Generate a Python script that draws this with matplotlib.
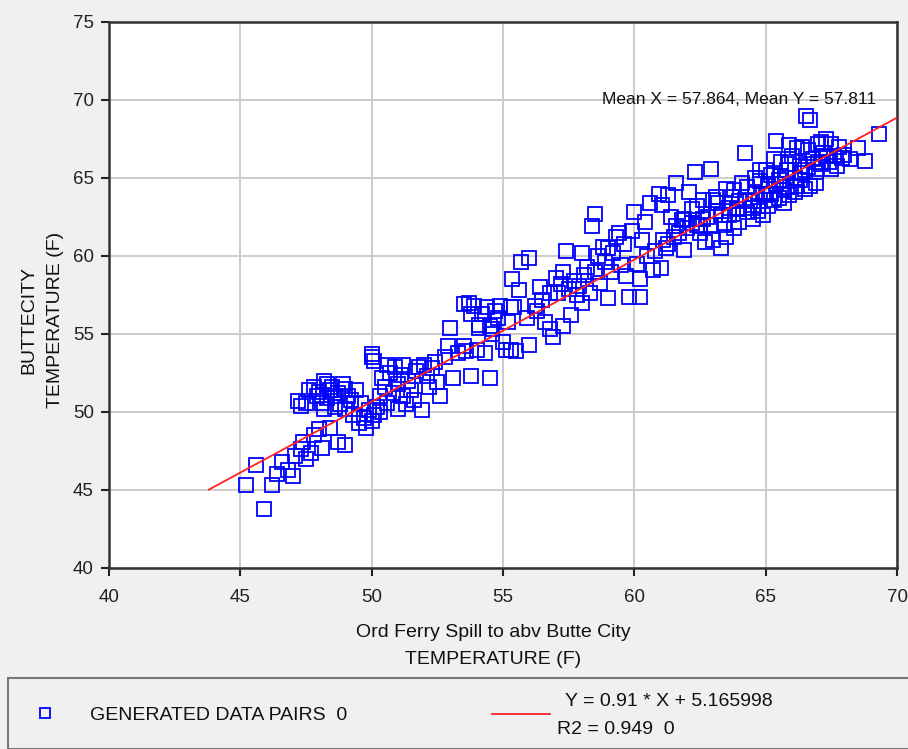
import matplotlib
matplotlib.use("Agg")
import matplotlib.pyplot as plt
from matplotlib.patches import Rectangle
from matplotlib.lines import Line2D

plt.rcParams["font.family"] = ["Liberation Sans", "DejaVu Sans"]

# -------- Data --------
ord_ferry_x = [
    # lower tail
    45.2, 45.6, 45.9, 46.2, 46.4, 46.6, 46.8, 47.0, 47.1, 47.3, 47.4, 47.5, 47.7, 47.8, 48.0, 48.1, 48.7, 49.0, 48.4,
    # upper cluster near 48
    47.2, 47.3, 47.5, 47.6, 47.8, 47.9, 48.0, 48.1, 48.2, 48.3, 48.3, 48.4, 48.5, 48.6, 48.7, 48.8, 48.9, 49.0, 49.1,
    49.2, 49.4, 48.2, 48.6, 49.0,
    # around 50
    49.3, 49.5, 49.7, 49.8, 49.9, 50.0, 50.1, 50.2, 49.6, 50.3, 50.0, 50.0, 50.1,
    # 50 - 52.5
    50.3, 50.4, 50.5, 50.6, 50.7, 50.8, 50.9, 51.0, 51.0, 51.1, 51.2, 51.3, 51.4, 51.5, 51.6, 51.7, 51.8, 51.9,
    52.0, 52.1, 52.2, 52.3, 52.4, 52.5, 51.2, 50.6,
    # 52.5 - 55.5
    52.6, 52.8, 52.9, 53.0, 53.1, 53.3, 53.5, 53.6, 53.8, 53.9, 54.0, 54.1, 54.2, 54.3, 54.5, 54.5, 54.6, 54.8,
    54.9, 55.0, 55.2, 55.3, 55.4, 55.5, 53.5, 53.7, 53.8, 54.1, 54.4, 54.6, 54.7, 55.1, 55.3, 55.35,
    # 55.5 - 60.7
    55.6, 55.7, 56.0, 56.0, 56.2, 56.4, 56.5, 56.6, 56.8, 56.9, 57.0, 57.1, 57.2, 57.3, 57.4, 57.5, 57.6, 57.7,
    57.8, 57.9, 58.0, 58.1, 58.2, 58.3, 58.4, 58.5, 58.6, 58.7, 58.8, 58.9, 59.0, 59.1, 59.2, 59.3, 59.4, 59.5,
    59.6, 59.7, 59.8, 59.9, 60.0, 60.1, 60.2, 60.2, 60.3, 60.4, 60.5, 60.6, 60.7, 58.5, 56.8, 57.3, 55.9, 56.3,
    58.0, 59.0,
    # 61 - 65
    61.0, 61.2, 61.3, 61.5, 61.6, 61.8, 61.9, 62.0, 62.2, 62.3, 62.4, 62.5, 62.6, 62.7, 62.8, 62.9, 63.0, 63.1,
    63.2, 63.3, 63.4, 63.5, 63.6, 63.7, 63.8, 63.9, 64.0, 64.1, 64.2, 64.3, 64.4, 64.5, 64.6, 64.7, 64.8, 64.9,
    65.0, 61.4, 62.1, 63.0, 63.5, 64.0, 62.5, 61.7, 60.95, 61.07,
    # 65 - 69.3
    65.1, 65.2, 65.3, 65.4, 65.5, 65.6, 65.7, 65.8, 65.9, 66.0, 66.1, 66.2, 66.3, 66.4, 66.5, 66.55, 66.6, 66.7,
    66.8, 66.9, 67.0, 67.1, 67.2, 67.3, 67.4, 67.5, 67.6, 67.7, 67.8, 68.0, 68.2, 68.5, 68.8, 69.3, 65.0, 65.3,
    65.8, 66.2, 66.6, 67.0, 65.5, 64.8, 65.9, 66.4,
    # dense band along the fit line
    60.8, 61.1, 61.3, 61.6, 61.9, 62.2, 62.4, 62.6, 62.9, 63.1, 63.3, 63.6, 63.8, 64.0, 64.2, 64.3, 64.5, 64.6,
    64.7, 64.9, 65.1, 65.2, 65.4, 65.6, 65.7, 65.9, 66.1, 66.3, 66.5, 66.7, 66.9, 67.1, 67.3, 67.5, 67.9,
]
butte_city_y = [
    45.3, 46.6, 43.8, 45.3, 46.0, 46.8, 46.3, 45.9, 47.2, 47.6, 48.1, 47.0, 47.4, 48.5, 48.9, 47.7, 48.1, 47.9, 49.0,
    50.7, 50.4, 50.6, 51.4, 51.6, 51.0, 51.3, 50.6, 52.0, 51.8, 50.9, 51.4, 51.6, 51.0, 51.2, 50.5, 51.8, 51.5, 51.0,
    50.8, 51.4, 50.2, 50.3, 50.2,
    49.8, 49.3, 49.6, 49.0, 50.1, 49.4, 49.8, 50.3, 50.6, 50.0, 53.5, 53.7, 53.3,
    51.0, 52.2, 51.6, 50.6, 52.5, 51.2, 52.9, 51.8, 50.2, 52.4, 51.0, 50.5, 52.0, 51.4, 50.8, 52.6, 52.9, 50.1,
    53.0, 52.3, 51.6, 52.8, 53.2, 51.9, 53.0, 53.0,
    51.0, 53.5, 54.2, 55.4, 52.2, 53.8, 54.2, 53.9, 52.3, 56.8, 54.0, 55.6, 56.3, 53.8, 52.2, 55.5, 55.0, 56.0,
    56.8, 54.5, 55.8, 54.0, 56.7, 53.9, 56.9, 57.0, 56.3, 55.4, 56.7, 55.3, 56.5, 54.0, 56.7, 58.5,
    57.8, 59.6, 59.9, 54.3, 56.8, 58.0, 57.2, 55.8, 55.3, 54.8, 58.6, 57.6, 58.2, 55.5, 60.3, 57.9, 56.2, 58.4,
    57.5, 58.1, 57.0, 58.8, 59.3, 57.6, 61.9, 59.0, 60.0, 58.3, 60.6, 59.6, 57.3, 59.0, 60.2, 61.2, 61.5, 59.4,
    60.8, 58.7, 57.4, 61.6, 62.8, 59.5, 57.4, 58.5, 61.0, 62.2, 60.0, 63.4, 59.1, 62.7, 57.6, 59.0, 56.0, 56.5,
    60.2, 60.5,
    59.2, 60.5, 63.9, 61.2, 64.7, 62.3, 60.4, 61.8, 63.0, 65.4, 62.0, 61.5, 63.6, 60.9, 62.5, 65.6, 61.0, 62.9,
    63.4, 60.5, 62.0, 64.3, 62.6, 63.8, 61.8, 63.0, 62.2, 64.7, 66.6, 62.8, 63.5, 62.4, 64.0, 63.2, 64.8, 62.6,
    63.9, 62.5, 64.1, 63.6, 61.2, 63.5, 61.9, 61.5, 64.0, 63.3,
    64.5, 65.2, 63.6, 67.4, 64.9, 66.0, 64.2, 65.5, 63.9, 66.4, 65.0, 64.5, 65.8, 67.0, 64.3, 69.0, 65.7, 68.7,
    66.2, 64.7, 67.2, 65.9, 66.6, 67.5, 66.0, 67.2, 66.4, 65.8, 67.0, 66.5, 66.2, 66.9, 66.1, 67.8, 65.5, 66.2,
    64.4, 66.9, 66.8, 66.0, 63.7, 65.5, 67.1, 65.3,
    60.3, 61.0, 60.8, 61.9, 62.4, 62.1, 63.2, 62.4, 62.0, 63.8, 62.6, 63.1, 64.2, 63.0, 63.6, 64.4, 63.1, 65.0,
    62.9, 64.0, 63.2, 64.0, 64.6, 65.1, 63.4, 65.9, 64.1, 64.9, 65.5, 64.5, 65.4, 67.3, 66.4, 65.6, 66.3,
]

fit_slope = 0.91
fit_intercept = 5.165998
fit_x_range = [43.8, 70.0]
x_ticks = [40, 45, 50, 55, 60, 65, 70]
y_ticks = [40, 45, 50, 55, 60, 65, 70, 75]

BG = "#f0f0f0"
BLUE = "#0000ff"


def main():
    fig = plt.figure(figsize=(9.08, 7.49), dpi=100, facecolor=BG)
    W, H = 908.0, 749.0
    ax = fig.add_axes([109 / W, 1 - 568 / H, (897 - 109) / W, (568 - 22) / H])
    ax.set_facecolor("white")

    # scatter of data pairs
    ax.plot(ord_ferry_x, butte_city_y, linestyle="none", marker="s", markersize=10,
            markerfacecolor="none", markeredgecolor=BLUE, markeredgewidth=1.3, zorder=3)

    # regression line
    fit_y = [fit_slope * x + fit_intercept for x in fit_x_range]
    ax.plot(fit_x_range, fit_y, color="#ff2020", lw=1.3, zorder=4)

    ax.set_xlim(40, 70)
    ax.set_ylim(40, 75)
    ax.set_xticks(x_ticks)
    ax.set_yticks(y_ticks)
    ax.grid(True, color="#cccccc", lw=1.4, zorder=0)
    ax.set_axisbelow(True)
    for s in ax.spines.values():
        s.set_color("#333333")
        s.set_linewidth(1.8)
    ax.tick_params(direction="out", length=6, width=1.5, color="#222222",
                   labelsize=13.5, labelcolor="#222222")
    ax.tick_params(axis="x", pad=9)
    ax.tick_params(axis="y", pad=5)

    ax.text(69.2, 70.0, "Mean X = 57.864, Mean Y = 57.811", ha="right", va="center",
            fontsize=12.5, color="#111111", zorder=5)

    # axis titles
    fig.text(493 / W, 1 - 646 / H, "Ord Ferry Spill to abv Butte City\nTEMPERATURE (F)",
             ha="center", va="center", fontsize=14, color="#111111", linespacing=1.75)
    fig.text(42 / W, 1 - 320 / H, "BUTTECITY\nTEMPERATURE (F)", rotation=90,
             ha="center", va="center", fontsize=14, color="#111111", linespacing=1.75,
             multialignment="center")

    # legend panel
    fig.patches.append(Rectangle((8 / W, 0), 1, (H - 678) / H, transform=fig.transFigure,
                                 facecolor=BG, edgecolor="#777777", lw=1.5))
    fig.lines.append(Line2D([45 / W], [1 - 713 / H], transform=fig.transFigure, marker="s",
                            markersize=7.5, markerfacecolor="none", markeredgecolor=BLUE,
                            markeredgewidth=1.3))
    fig.text(90 / W, 1 - 715 / H, "GENERATED DATA PAIRS  0", ha="left", va="center",
             fontsize=14, color="#111111")
    fig.lines.append(Line2D([492 / W, 550 / W], [1 - 714 / H, 1 - 714 / H],
                            transform=fig.transFigure, color="#ff2020", lw=1.3))
    fig.text(565 / W, 1 - 702 / H, "Y = 0.91 * X + 5.165998", ha="left", va="center",
             fontsize=14, color="#111111")
    fig.text(557 / W, 1 - 729 / H, "R2 = 0.949  0", ha="left", va="center",
             fontsize=14, color="#111111")

    fig.savefig("out.png", dpi=100, facecolor=BG)
    plt.close(fig)


if __name__ == "__main__":
    main()
